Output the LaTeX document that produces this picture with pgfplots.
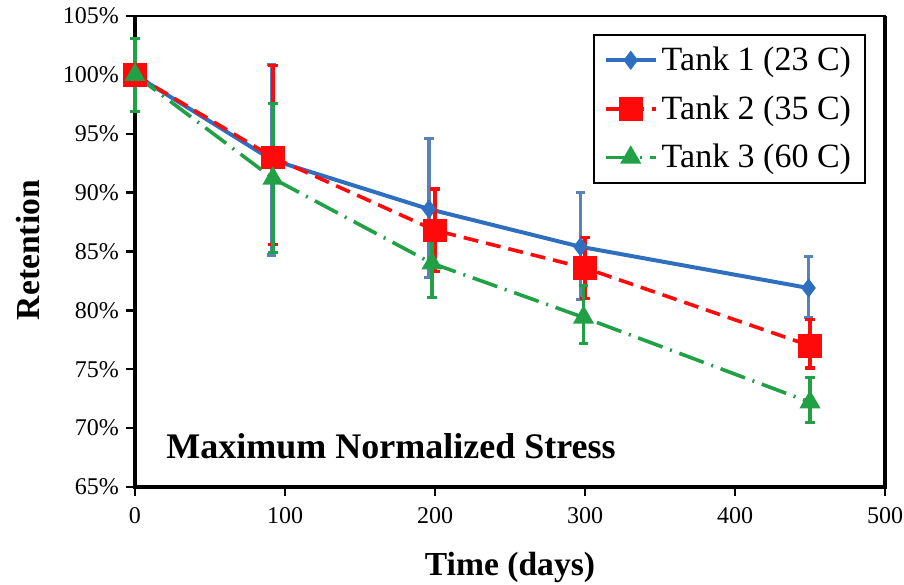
\documentclass[border=0pt]{standalone}
\usepackage{fontspec}
\setmainfont{Liberation Serif}
\usepackage{pgfplots}
\pgfplotsset{compat=1.18}
\usepackage{pgfplotstable}

\definecolor{tblue}{HTML}{2E6FBF}
\definecolor{tblueerr}{HTML}{5A82BA}
\definecolor{tred}{HTML}{FF0A0A}
\definecolor{tgreen}{HTML}{22A045}

\pgfplotstableread{
x y ep em
0 100 0 0
91 92.8 8.1 8.1
196 88.6 6.0 5.8
297 85.4 4.6 4.5
449 81.9 2.7 2.5
}\tankA
\pgfplotstableread{
x y ep em
0 100 0 0
92 93.0 7.8 7.4
200 86.8 3.5 3.5
300 83.6 2.6 2.6
450 77.0 2.2 1.9
}\tankB
\pgfplotstableread{
x y ep em
0 100 3.1 3.1
92 91.2 6.4 6.3
198 84.0 2.9 2.9
299 79.4 2.7 2.2
450 72.2 2.1 1.7
}\tankC

\begin{document}
\begin{tikzpicture}
\begin{axis}[
  scale only axis, width=375pt, height=235.5pt,
  xmin=0, xmax=500, ymin=65, ymax=105,
  xtick={0,100,...,500}, ytick={65,70,...,105},
  yticklabel={\pgfmathprintnumber{\tick}\%},
  /pgf/number format/assume math mode=true,
  tick label style={font=\fontsize{12}{14}\selectfont},
  xticklabel style={yshift=-2pt},
  tick align=outside, xtick pos=bottom, ytick pos=left,
  major tick length=4.5pt,
  tick style={black, line width=1.2pt},
  axis line style={line width=0.9pt, black},
  clip=false,
  xlabel={\textbf{Time (days)}}, ylabel={\textbf{Retention}},
  label style={font=\fontsize{16.8}{19}\selectfont},
  xlabel style={at={(axis description cs:0.5,-0.187)}, anchor=base},
  ylabel style={at={(axis description cs:-0.1427,0.503)}, anchor=center},
  legend style={at={(rel axis cs:0.9747,0.9618)}, anchor=north east, draw=black, line width=1pt,
    font=\fontsize{17}{20}\selectfont, inner xsep=5pt, inner ysep=4pt, row sep=7pt},
  legend cell align=left,
  legend image code/.code={\draw[mark repeat=2,mark phase=2] plot coordinates {(0pt,0pt)(12.5pt,0pt)(25pt,0pt)};},
]
\coordinate (bbsw) at (rel axis cs:-0.18,-0.208);
\coordinate (bbne) at (rel axis cs:1.0253,1.034);
\draw[black, line width=2pt] (rel axis cs:0,1) -- (rel axis cs:0,0) -- (rel axis cs:1,0) -- (rel axis cs:1,1);

\addplot[tblue, line width=2pt, mark=diamond*, mark size=3.2pt, mark options={solid},
  error bars/.cd, y dir=both, y explicit, error mark=-,
  error bar style={tblueerr, line width=1.6pt, solid},
  error mark options={rotate=90, tblueerr, mark size=2.4pt, line width=1.6pt, solid}]
  table[x=x, y=y, y error plus=ep, y error minus=em] {\tankA};
\addlegendentry{Tank 1 (23 C)}

\addplot[tred, line width=1.8pt, dash pattern=on 7.5pt off 4pt, mark=square*, mark size=5pt, mark options={solid},
  error bars/.cd, y dir=both, y explicit, error mark=-,
  error bar style={tred, line width=1.6pt, solid},
  error mark options={rotate=90, tred, mark size=2.4pt, line width=1.6pt, solid}]
  table[x=x, y=y, y error plus=ep, y error minus=em] {\tankB};
\addlegendentry{Tank 2 (35 C)}

\addplot[tgreen, line width=1.8pt, dash pattern=on 13pt off 4pt on 1pt off 4pt, mark=triangle*, mark size=4.3pt, mark options={solid},
  error bars/.cd, y dir=both, y explicit, error mark=-,
  error bar style={tgreen, line width=1.6pt, solid},
  error mark options={rotate=90, tgreen, mark size=2.4pt, line width=1.6pt, solid}]
  table[x=x, y=y, y error plus=ep, y error minus=em] {\tankC};
\addlegendentry{Tank 3 (60 C)}

\node[anchor=base west, inner sep=0pt, font=\bfseries\fontsize{18}{21}\selectfont] at (axis cs:20.7,67.46) {Maximum Normalized Stress};
\end{axis}
\pgfresetboundingbox
\path[use as bounding box] (bbsw) rectangle (bbne);
\end{tikzpicture}
\end{document}
